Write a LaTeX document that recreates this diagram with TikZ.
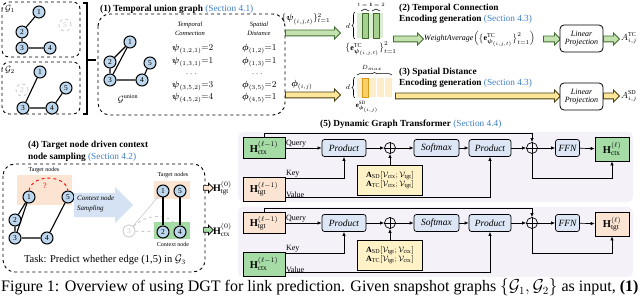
\documentclass[tikz,border=0pt]{standalone}
\usepackage{amsmath,amssymb}
\usepackage{fontspec}
\setmainfont{Liberation Serif}
\usetikzlibrary{shapes.arrows,arrows.meta,decorations.pathreplacing,calc}
\definecolor{nb}{HTML}{BCD7EE}
\definecolor{secblue}{HTML}{3F7FC6}
\definecolor{ltg}{HTML}{C3E2B0}
\definecolor{dkg}{HTML}{3E6B2E}
\definecolor{barlg}{HTML}{DCEDD3}
\definecolor{bardg}{HTML}{A6D18E}
\definecolor{lty}{HTML}{FDE59A}
\definecolor{dky}{HTML}{4A3F10}
\definecolor{barly}{HTML}{FDEDCB}
\definecolor{bardy}{HTML}{F7D068}
\definecolor{baror}{HTML}{D99A1A}
\definecolor{gbox}{HTML}{A5DBA5}
\definecolor{pbox}{HTML}{FCE4D2}
\definecolor{bbox}{HTML}{DCE6F4}
\definecolor{ybox}{HTML}{FEF2C6}
\definecolor{panel}{HTML}{F4F1F9}
\definecolor{bigarr}{HTML}{D5E2F3}
\definecolor{ghost}{HTML}{C8C8C8}
\newcommand{\myfs}[1]{\fontsize{#1}{#1}\selectfont}
\begin{document}
\begin{tikzpicture}[x=1pt,y=-1pt,
  gnode/.style={circle, draw, line width=1pt, fill=nb, inner sep=0, minimum size=12, font=\myfs{7.5}},
  ghostnode/.style={circle, draw=ghost, dashed, line width=0.8pt, fill=white, text=ghost, inner sep=0, minimum size=12, font=\myfs{7.5}},
  gedge/.style={line width=1.1pt},
  ttl/.style={anchor=west, font=\bfseries\myfs{9.3}, inner sep=0},
  garrow/.style={single arrow, draw=dkg, fill=ltg, line width=0.9pt, inner xsep=0, inner ysep=2.5pt, single arrow head extend=3pt, anchor=tail},
  yarrow/.style={single arrow, draw=dky, fill=lty, line width=0.9pt, inner xsep=0, inner ysep=2.5pt, single arrow head extend=3pt, anchor=tail},
  sarrow/.style={single arrow, draw, line width=0.7pt, inner xsep=0, inner ysep=2pt, single arrow head extend=2.5pt, anchor=tail, minimum height=10},
  lp/.style={draw, rounded corners=4, fill=white, line width=0.8, align=center, font=\itshape\myfs{8}, minimum width=43, minimum height=27, inner sep=1},
  bx/.style={draw, rounded corners=2.5, fill=bbox, line width=0.7, font=\itshape\myfs{9.5}, minimum height=17, inner sep=0},
  hbox/.style={draw, line width=0.7, minimum width=42, minimum height=21, inner sep=0, font=\myfs{10.5}},
  abox/.style={draw, line width=0.7, fill=ybox, align=left, minimum width=65, minimum height=30, font=\myfs{8}, inner sep=1},
  oplus/.style={circle, draw, line width=0.7, minimum size=11, inner sep=0},
  lbl/.style={font=\myfs{8}, inner sep=0.5},
  arr/.style={line width=0.7, -{Latex[length=4pt,width=3.5pt]}},
  txt/.style={font=\myfs{9}, inner sep=0}
]
\useasboundingbox (0,0) rectangle (640,296);

% ---------- snapshot graphs ----------
\draw[dashed, line width=0.9, rounded corners=7] (2,2) rectangle (80,57);
\draw[dashed, line width=0.9, rounded corners=7] (2,62) rectangle (80,114);
\node[txt] (g1l) at (10,9) {$\mathcal{G}_1$};
\node[txt] (g2l) at (10,70) {$\mathcal{G}_2$};
\node[gnode] (a1) at (39,12) {1};
\node[ghostnode] (a5) at (65,25) {5};
\node[gnode] (a2) at (22,32) {2};
\node[gnode] (a3) at (22,48) {3};
\node[gnode] (a4) at (50,48) {4};
\draw[gedge] (a1)--(a2) (a2)--(a3) (a3)--(a4);
\node[gnode] (b1) at (40,72) {1};
\node[ghostnode] (b2) at (22,90) {2};
\node[gnode] (b5) at (66,88) {5};
\node[gnode] (b3) at (23,108) {3};
\node[gnode] (b4) at (52,108) {4};
\draw[gedge] (b1)--(b3) (b3)--(b4) (b4)--(b5);
\draw[line width=1.2] (83,3) -- (87,3) -- (87,114) -- (83,114);
\draw[line width=1.2] (87,60) -- (96,60);

% ---------- (1) union graph ----------
\node[ttl] (t1) at (100,9) {(1) Temporal union graph {\mdseries\color{secblue}(Section 4.1)}};
\draw[dashed, line width=0.9, rounded corners=12] (98,14) rectangle (285,115);
\node[gnode] (u1) at (130,42) {1};
\node[gnode] (u2) at (110,62) {2};
\node[gnode] (u5) at (150,63) {5};
\node[gnode] (u3) at (110,80) {3};
\node[gnode] (u4) at (142,80) {4};
\draw[gedge] (u1)--(u2) (u1)--(u3) (u2)--(u3) (u3)--(u4) (u4)--(u5);
\node[txt] (ul) at (128,99) {$\mathcal{G}^{\text{union}}$};
\node[align=center, font=\itshape\myfs{6.5}, inner sep=0] (hd1) at (190,29) {Temporal\\[2pt]Connection};
\node[align=center, font=\itshape\myfs{6.5}, inner sep=0] (hd2) at (259,29) {Spatial\\[2pt]Distance};
\node[txt, anchor=west] (p1) at (172,49) {$\boldsymbol{\psi}_{(1,2,1)}{=}2$};
\node[txt, anchor=west] (p2) at (172,62) {$\boldsymbol{\psi}_{(1,3,1)}{=}1$};
\node[txt] (p3) at (192,74) {$\cdots$};
\node[txt, anchor=west] (p4) at (172,86) {$\boldsymbol{\psi}_{(3,5,2)}{=}3$};
\node[txt, anchor=west] (p5) at (172,98) {$\boldsymbol{\psi}_{(4,5,2)}{=}4$};
\node[txt, anchor=west] (f1) at (242,49) {$\boldsymbol{\phi}_{(1,2)}{=}1$};
\node[txt, anchor=west] (f2) at (242,62) {$\boldsymbol{\phi}_{(1,3)}{=}1$};
\node[txt] (f3) at (258,74) {$\cdots$};
\node[txt, anchor=west] (f4) at (242,86) {$\boldsymbol{\phi}_{(3,5)}{=}2$};
\node[txt, anchor=west] (f5) at (242,98) {$\boldsymbol{\phi}_{(4,5)}{=}1$};

% ---------- arrows out of union box ----------
\node[garrow, minimum height=55] (ta1) at (285,33) {};
\node[yarrow, minimum height=55] (sa1) at (285,95) {};
\node[txt] (psl) at (306,19) {$\{\boldsymbol{\psi}_{(i,j,t)}\}_{t=1}^{2}$};
\node[txt] (phl) at (302,85) {$\boldsymbol{\phi}_{(i,j)}$};

% ---------- TC bars ----------
\fill[barlg] (357,13) rectangle (383,38);
\draw[dkg, fill=bardg, line width=0.6] (362,13) rectangle (368,38);
\draw[dkg, fill=bardg, line width=0.6] (373,13) rectangle (379,38);
\draw[line width=0.6, decorate, decoration={brace, amplitude=3}] (355,39) -- (355,12);
\node[font=\itshape\myfs{7}, inner sep=0] (dl1) at (348,26) {$d$};
\draw[line width=0.5, decorate, decoration={brace, amplitude=2}] (361,11) -- (369,11);
\draw[line width=0.5, decorate, decoration={brace, amplitude=2}] (372,11) -- (380,11);
\node[font=\myfs{5.5}, inner sep=0] (tt1) at (365,5) {$t=1$};
\node[font=\myfs{5.5}, inner sep=0] (tt2) at (377,5) {$t=2$};
\node[font=\myfs{8}, inner sep=0] (etc) at (371,49) {$\big\{\mathbf{e}^{\mathrm{TC}}_{\boldsymbol{\psi}_{(i,j,t)}}\big\}_{t=1}^{2}$};

% ---------- SD bars ----------
\fill[barly] (357,78) rectangle (392,97);
\draw[white, line width=0.8] (376,78) -- (376,97) (384,78) -- (384,97);
\draw[baror, fill=bardy, line width=0.7] (362,78) rectangle (368,97);
\draw[line width=0.6, decorate, decoration={brace, amplitude=3}] (355,98) -- (355,77);
\node[font=\itshape\myfs{7}, inner sep=0] (dl2) at (348,87) {$d$};
\draw[line width=0.5, decorate, decoration={brace, amplitude=2.5}] (357,75) -- (392,75);
\node[font=\myfs{6}, inner sep=0] (dmx) at (372,68) {$D_{max}$};
\node[font=\myfs{7}, inner sep=0] (esd) at (367,107) {$\mathbf{e}^{\mathrm{SD}}_{\boldsymbol{\phi}_{(i,j)}}$};

% ---------- (2) and (3) ----------
\node[ttl] (t2a) at (399,8) {(2) Temporal Connection};
\node[ttl] (t2b) at (399,19) {Encoding generation {\mdseries\color{secblue}(Section 4.3)}};
\node[garrow, minimum height=30] (ta2) at (393,39) {};
\node[font=\myfs{8}, inner sep=0, anchor=west] (wa) at (424,39) {$\mathit{WeightAverage}\Big(\big\{\mathbf{e}^{\mathrm{TC}}_{\boldsymbol{\psi}_{(i,j,t)}}\big\}_{t=1}^{2}\Big)$};
\node[garrow, minimum height=17] (ta3) at (543,39) {};
\node[lp] (lp1) at (581.5,38.5) {Linear\\Projection};
\node[garrow, minimum height=16] (ta4) at (603,39) {};
\node[font=\myfs{9}, inner sep=0, anchor=west] (atc) at (621,38) {$A^{\mathrm{TC}}_{i,j}$};

\node[ttl] (t3a) at (399,72) {(3) Spatial Distance};
\node[ttl] (t3b) at (399,83) {Encoding generation {\mdseries\color{secblue}(Section 4.3)}};
\node[yarrow, minimum height=165] (sa2) at (395,96) {};
\node[lp] (lp2) at (581.5,96.5) {Linear\\Projection};
\node[yarrow, minimum height=16] (sa3) at (603,96) {};
\node[font=\myfs{9}, inner sep=0, anchor=west] (asd) at (621,96) {$A^{\mathrm{SD}}_{i,j}$};

% ---------- (4) sampling ----------
\node[ttl] (t4a) at (28,145) {(4) Target node driven context};
\node[ttl] (t4b) at (28,157) {node sampling {\mdseries\color{secblue}(Section 4.2)}};
\draw[dashed, line width=0.9, rounded corners=12] (3,164) rectangle (205,272);
\fill[pbox] (17,175) rectangle (72,205);
\node[font=\myfs{6}, inner sep=0] (tnl) at (44,170) {Target nodes};
\node[gnode] (l1) at (29,197) {1};
\node[gnode] (l5) at (68,197) {5};
\node[gnode] (l2) at (15,220) {2};
\node[gnode] (l3) at (15,238) {3};
\node[gnode] (l4) at (47,238) {4};
\draw[gedge] (l1)--(l2) (l1)--(l3) (l2)--(l3) (l3)--(l4) (l4)--(l5);
\draw[red, dashed, line width=0.9] (l1.north) to[out=80, in=100, looseness=1.1] (l5.north);
\node[red, font=\myfs{8}, inner sep=0] (qm) at (45,186) {?};
\node[single arrow, fill=bigarr, inner xsep=0, inner ysep=12pt, single arrow head extend=6pt, minimum height=59, anchor=tail] (big) at (74,205) {};
\node[align=left, font=\itshape\myfs{7}, inner sep=0, anchor=west] (cns) at (77,204) {Context node\\[3pt]Sampling};
\fill[pbox] (154,181) rectangle (190,199);
\fill[gbox] (154,222) rectangle (190,239);
\node[font=\myfs{6}, inner sep=0] (tnr) at (173,175) {Target nodes};
\node[font=\myfs{6}, inner sep=0] (cnr) at (173,244) {Context node};
\node[ghostnode, solid] (r3) at (129,231) {3};
\node[gnode] (r1) at (163,191) {1};
\node[gnode] (r5) at (180,191) {5};
\node[gnode] (r2) at (163,232) {2};
\node[gnode] (r4) at (180,232) {4};
\draw[ghost, line width=0.6] (r3) -- (r1);
\draw[ghost, dashed, line width=0.8] (r3) -- (r2);
\draw[ghost, dashed, line width=0.8] (r3) to[out=45, in=120] (r4);
\draw[gedge] (r1)--(r2) (r5)--(r4);
\node[font=\myfs{10.5}, inner sep=0] (task) at (105,260) {Task: Predict whether edge (1,5) in $\mathcal{G}_3$};

% ---------- H^(0) inputs ----------
\node[sarrow, fill=pbox] (h0a) at (203,188) {};
\node[font=\myfs{10}, inner sep=0, anchor=west] (h0t) at (213,188) {$\mathbf{H}^{(0)}_{\mathrm{tgt}}$};
\node[sarrow, fill=gbox] (h0b) at (203,230) {};
\node[font=\myfs{10}, inner sep=0, anchor=west] (h0c) at (213,230) {$\mathbf{H}^{(0)}_{\mathrm{ctx}}$};

% ---------- (5) DGT ----------
\node[ttl] (t5) at (320,124) {(5) Dynamic Graph Transformer {\mdseries\color{secblue}(Section 4.4)}};
\foreach \dy/\tp/\bt/\tc/\bc/\p in {0/ctx/tgt/gbox/pbox/1, 75/tgt/ctx/pbox/gbox/2}{
\begin{scope}[shift={(0,\dy)}]
\fill[panel, rounded corners=5] (238,132) rectangle (633,202);
\node[hbox, fill=\tc] (hq\p) at (264,148) {$\mathbf{H}^{(\ell-1)}_{\mathrm{\tp}}$};
\node[hbox, fill=\bc, minimum height=24] (hk\p) at (264,189) {$\mathbf{H}^{(\ell-1)}_{\mathrm{\bt}}$};
\node[bx, minimum width=44] (pa\p) at (344,148) {Product};
\node[oplus] (oa\p) at (390,148) {};
\draw[line width=0.7] (oa\p.north)--(oa\p.south) (oa\p.west)--(oa\p.east);
\node[bx, minimum width=45] (sm\p) at (436.5,148) {Softmax};
\node[bx, minimum width=42] (pb\p) at (490,148) {Product};
\node[oplus] (ob\p) at (532,148) {};
\draw[line width=0.7] (ob\p.north)--(ob\p.south) (ob\p.west)--(ob\p.east);
\node[bx, minimum width=24] (ff\p) at (567.5,148) {FFN};
\node[hbox, fill=\tc, minimum width=34, minimum height=24] (ho\p) at (612,149) {$\mathbf{H}^{(\ell)}_{\mathrm{\tp}}$};
\node[abox] (ab\p) at (390,180) {$\mathbf{A}_{\mathrm{SD}}[\mathcal{V}_{\mathrm{\tp}};\mathcal{V}_{\mathrm{\bt}}]$\\$\mathbf{A}_{\mathrm{TC}}[\mathcal{V}_{\mathrm{\tp}};\mathcal{V}_{\mathrm{\bt}}]$};
\draw[arr] (hq\p) -- (pa\p);
\node[lbl, anchor=south west] (ql\p) at (hq\p.east) {Query};
\draw[arr] (pa\p) -- (oa\p);
\draw[arr] (oa\p) -- (sm\p);
\draw[arr] (sm\p) -- (pb\p);
\draw[arr] (pb\p) -- (ob\p);
\draw[arr] (ob\p) -- (ff\p);
\draw[arr] (ff\p) -- (ho\p);
\draw[arr] (ab\p) -- (oa\p);
\draw[arr] (hq\p.north) -- ++(0,-3.5) -| (ob\p.north);
\coordinate (sk\p) at (0,178);
\draw[arr] (ob\p.south) -- (ob\p.south |- sk\p) -| (ho\p.south);
\draw[arr] ([yshift=-1.5pt]hk\p.north east) -| (pa\p.south);
\node[lbl, anchor=south west] (kl\p) at ([yshift=-1.5pt]hk\p.north east) {Key};
\draw[arr] ([yshift=3.5pt]hk\p.south east) -| (pb\p.south);
\node[lbl, anchor=south west] (vl\p) at ([yshift=3.5pt]hk\p.south east) {Value};
\end{scope}
}

% ---------- caption ----------
\node[font=\myfs{16}, inner sep=0, anchor=west] (cap) at (1,287.5) {Figure 1: Overview of using DGT for link prediction. Given snapshot graphs $\{\mathcal{G}_1,\mathcal{G}_2\}$ as input, \textbf{(1)}};
\end{tikzpicture}
\end{document}
